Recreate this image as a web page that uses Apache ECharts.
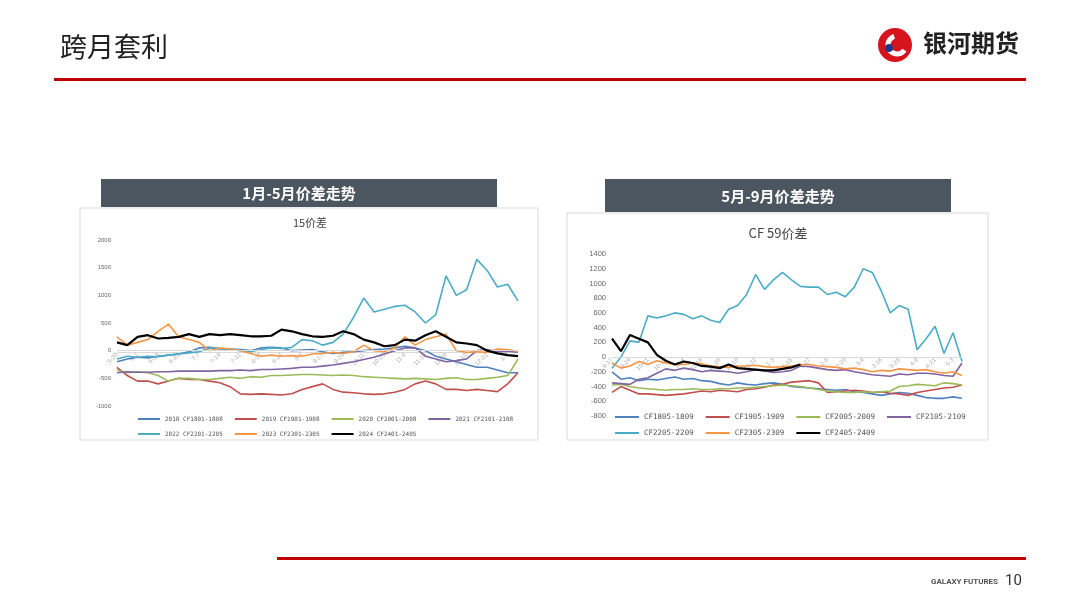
<!DOCTYPE html><html><head><meta charset="utf-8">
<script src="https://cdn.jsdelivr.net/npm/echarts@6/dist/echarts.min.js"></script>
<style>html,body{margin:0;padding:0;background:#fff}#c{width:1080px;height:608px}</style></head><body><div id="c"></div>
<script>
const leftCats=["5-20","5-26","6-1","6-7","6-13","6-19","6-25","7-1","7-7","7-13","7-19","7-25","7-31","8-6","8-12","8-18","8-24","8-30","9-5","9-11","9-17","9-23","9-29","10-5","10-11","10-17","10-23","10-29","11-4","11-10","11-16","11-22","11-28","12-4","12-10","12-16","12-22","12-28","1-3","1-9"];
const L2018=[-200,-150,-120,-130,-100,-80,-60,-20,50,60,40,30,20,0,50,60,50,0,10,20,-20,-50,-30,-20,0,20,30,50,80,50,0,-100,-150,-200,-250,-300,-300,-350,-400,-400];
const L2019=[-300,-450,-550,-550,-600,-550,-500,-520,-520,-550,-580,-650,-780,-790,-780,-790,-800,-780,-700,-650,-600,-700,-750,-760,-780,-790,-780,-750,-700,-600,-550,-600,-700,-700,-720,-700,-720,-740,-600,-400];
const L2020=[-350,-400,-380,-400,-450,-550,-500,-500,-520,-520,-500,-480,-500,-470,-480,-450,-450,-440,-430,-430,-440,-450,-440,-450,-470,-480,-490,-500,-510,-500,-510,-520,-500,-490,-520,-520,-500,-480,-450,-150];
const L2021=[-400,-380,-390,-390,-380,-380,-370,-370,-370,-370,-360,-360,-350,-360,-340,-340,-330,-320,-300,-300,-280,-260,-230,-200,-160,-120,-60,0,50,50,-100,-150,-200,-180,-150,0,20,-20,-10,-30];
const L2022=[-150,-100,-120,-100,-110,-80,-60,-40,-20,50,30,20,0,-20,20,50,40,60,200,180,100,150,300,600,950,700,750,800,820,700,500,650,1350,1000,1100,1650,1450,1150,1200,900];
const L2023=[250,100,150,200,350,480,250,200,150,0,50,30,0,-50,-100,-80,-100,-90,-100,-60,-50,-30,-50,-20,100,0,-20,50,250,100,200,250,300,0,-30,-20,-30,30,20,-10];
const L2024=[150,100,250,280,220,230,250,300,250,300,280,300,280,260,260,270,380,350,300,260,250,270,350,300,200,150,80,100,200,180,280,350,250,150,130,100,0,-50,-80,-100];
const leftNames=["2018 CF1801-1808","2019 CF1901-1908","2020 CF2001-2008","2021 CF2101-2108","2022 CF2201-2205","2023 CF2301-2305","2024 CF2401-2405"];
const rightCats=["9-17","9-23","9-29","10-5","10-11","10-17","10-23","10-29","11-4","11-10","11-16","11-22","11-28","12-4","12-10","12-16","12-22","12-28","1-3","1-9","1-15","1-21","1-27","2-2","2-8","2-14","2-20","2-26","3-4","3-10","3-16","3-22","3-28","4-3","4-9","4-15","4-21","4-27","5-3","5-9"];
const R1809=[-200,-300,-280,-320,-300,-310,-290,-270,-300,-290,-320,-330,-360,-380,-350,-370,-380,-360,-350,-370,-400,-410,-420,-430,-440,-450,-440,-470,-480,-500,-520,-500,-480,-490,-520,-550,-560,-560,-540,-560];
const R1909=[-480,-400,-450,-500,-500,-510,-520,-510,-500,-480,-460,-470,-450,-460,-470,-440,-430,-410,-380,-370,-340,-330,-320,-350,-480,-470,-460,-450,-460,-480,-470,-490,-500,-520,-480,-460,-440,-420,-410,-380];
const R2009=[-380,-370,-400,-420,-430,-440,-450,-440,-440,-430,-440,-440,-430,-430,-420,-420,-410,-400,-390,-380,-390,-400,-420,-440,-460,-470,-480,-480,-470,-480,-470,-460,-400,-390,-370,-380,-390,-350,-360,-380];
const R2109=[-350,-360,-370,-300,-280,-220,-160,-180,-150,-170,-200,-180,-190,-200,-220,-200,-170,-190,-210,-200,-180,-120,-130,-150,-170,-180,-170,-200,-220,-240,-250,-260,-230,-240,-220,-220,-230,-250,-260,-80];
const R2209=[-150,0,220,200,560,530,560,600,580,520,560,500,470,650,700,850,1120,920,1050,1150,1050,960,950,950,850,880,820,950,1200,1150,900,600,700,650,100,250,420,50,330,-60];
const R2309=[-80,-150,-120,-60,-100,-50,-80,-100,-100,-80,-90,-120,-130,-140,-120,-120,-110,-130,-140,-130,-120,-100,-100,-120,-130,-140,-160,-150,-170,-200,-180,-190,-160,-170,-180,-170,-200,-220,-200,-250];
const R2409=[250,80,300,250,200,30,-50,-100,-60,-80,-120,-130,-150,-100,-150,-160,-170,-180,-180,-160,-140,-100];
const rightNames=["CF1805-1809","CF1905-1909","CF2005-2009","CF2105-2109","CF2205-2209","CF2305-2309","CF2405-2409"];
const colors=["#4f81bd","#c0504d","#9bbb59","#8064a2","#4bacc6","#f79646","#000000"];

const chart=echarts.init(document.getElementById('c'));
const F='"Microsoft YaHei","Noto Sans CJK SC",sans-serif';
function mk(name,data,i,ax){return {name,type:'line',data,xAxisIndex:ax,yAxisIndex:ax,showSymbol:false,symbol:'none',lineStyle:{width:i===6?2.2:1.6,color:colors[i]},itemStyle:{color:colors[i]},z:i===6?5:3,animation:false};}
const ls=[L2018,L2019,L2020,L2021,L2022,L2023,L2024], rs=[R1809,R1909,R2009,R2109,R2209,R2309,R2409];
const series=[];
ls.forEach((d,i)=>series.push(mk(leftNames[i],d,i,0)));
rs.forEach((d,i)=>series.push(mk(rightNames[i],d,i,1)));
const lg=(data,left,top,fs,w)=>({data,left,top,orient:'horizontal',itemWidth:w,itemHeight:2,itemGap:12,icon:'rect',textStyle:{fontSize:fs,color:'#555',fontFamily:'monospace'}});
const xa=(g,data,off)=>({type:'category',gridIndex:g,data,boundaryGap:false,offset:off,axisLine:{onZero:false,lineStyle:{color:'#d9d9d9'}},axisTick:{show:false},axisLabel:{rotate:45,fontSize:6,color:'#aaa',interval:1,margin:2}});
const zl=(g)=>({type:'line',xAxisIndex:g,yAxisIndex:g,data:[],markLine:{silent:true,symbol:'none',label:{show:false},lineStyle:{color:'#d9d9d9',type:'solid',width:1},data:[{yAxis:0}]}});
series.push(zl(0),zl(1));
chart.setOption({
 animation:false,
 color:colors,
 grid:[{left:117,top:240,width:401,height:166},{left:612,top:254,width:350,height:162}],
 xAxis:[xa(0,leftCats,-54),xa(1,rightCats,-59)],
 yAxis:[
  {type:'value',gridIndex:0,min:-1000,max:2000,interval:500,splitLine:{show:false},axisLine:{show:false},axisTick:{show:false},axisLabel:{fontSize:6,color:'#666',margin:6,formatter:v=>String(v)}},
  {type:'value',gridIndex:1,min:-800,max:1400,interval:200,splitLine:{show:false},axisLine:{show:false},axisTick:{show:false},axisLabel:{fontSize:7.5,color:'#666',margin:6,formatter:v=>String(v)}}],
 legend:[lg(leftNames.slice(0,4),133,411,6,22),lg(leftNames.slice(4),133,426,6,22),lg(rightNames.slice(0,4),610,408,7.5,24),lg(rightNames.slice(4),610,424,7.5,24)],
 series,
 graphic:[
  {type:'text',left:60,top:33,style:{text:'跨月套利',fontSize:27,fill:'#222',fontFamily:F}},
  {type:'rect',shape:{x:54,y:78,width:972,height:3},style:{fill:'#c00000'}},
  {type:'circle',shape:{cx:895,cy:45,r:17},style:{fill:'#d7141d'}},
  {type:'arc',shape:{cx:897,cy:45,r:9,startAngle:0.6,endAngle:4.4},style:{stroke:'#fff',lineWidth:5,fill:null}},
  {type:'circle',shape:{cx:889,cy:48,r:4},style:{fill:'#1f3a8a'}},
  {type:'text',left:923,top:31,style:{text:'银河期货',fontSize:24,fontWeight:'bold',fill:'#222',fontFamily:F}},
  {type:'rect',shape:{x:80,y:208,width:458,height:232},style:{fill:null,stroke:'#d9d9d9',lineWidth:1},z:-1},
  {type:'rect',shape:{x:567,y:213,width:421,height:227},style:{fill:null,stroke:'#d9d9d9',lineWidth:1},z:-1},
  {type:'rect',shape:{x:101,y:179,width:396,height:28},style:{fill:'#4b5660'}},
  {type:'text',x:299,y:193,style:{text:'1月-5月价差走势',fontSize:15,fontWeight:'bold',fill:'#fff',align:'center',verticalAlign:'middle',fontFamily:F}},
  {type:'rect',shape:{x:605,y:179,width:346,height:33},style:{fill:'#4b5660'}},
  {type:'text',x:778,y:196,style:{text:'5月-9月价差走势',fontSize:15,fontWeight:'bold',fill:'#fff',align:'center',verticalAlign:'middle',fontFamily:F}},
  {type:'text',x:310,y:223,style:{text:'15价差',fontSize:11,fill:'#444',align:'center',verticalAlign:'middle',fontFamily:F}},
  {type:'text',x:778,y:233,style:{text:'CF 59价差',fontSize:13,fill:'#444',align:'center',verticalAlign:'middle',fontFamily:F}},
  {type:'rect',shape:{x:277,y:557,width:749,height:3},style:{fill:'#c00000'}},
  {type:'text',x:998,y:582,style:{text:'GALAXY FUTURES',fontSize:8,fontWeight:'bold',fill:'#555',align:'right',verticalAlign:'middle',fontFamily:'Roboto'}},
  {type:'text',x:1005,y:581,style:{text:'10',fontSize:15,fill:'#333',verticalAlign:'middle',fontFamily:'Roboto'}}
 ]
});
</script></body></html>
